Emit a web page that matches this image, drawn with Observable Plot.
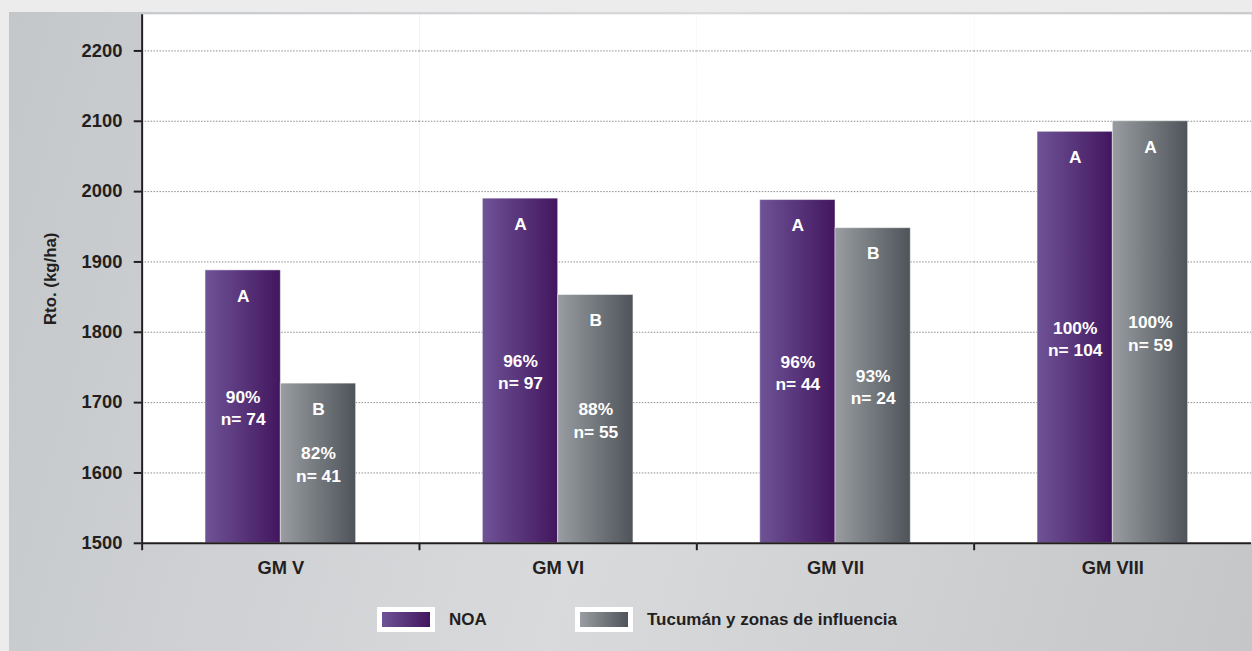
<!DOCTYPE html>
<html><head><meta charset="utf-8">
<script src="https://cdn.jsdelivr.net/npm/d3@7"></script>
<script src="https://cdn.jsdelivr.net/npm/@observablehq/plot@0.6"></script>
<style>
html,body{margin:0;padding:0;width:1252px;height:651px;overflow:hidden;background:#ececec;font-family:"Liberation Sans",Arial,sans-serif;}
#panel{position:absolute;left:9px;top:12px;width:1243px;height:639px;background:linear-gradient(105deg,#c4c7ca 0%,#d9dadc 50%,#c5c6c8 100%);}
#chart{position:absolute;left:0;top:0;}
.lg{position:absolute;top:607px;display:flex;align-items:center;height:25px;font-weight:bold;font-size:17px;color:#231f20;}
.box{width:48px;height:15px;border:5px solid #fff;margin-right:14px;}
</style></head><body>
<div id="panel"></div>
<div id="chart"></div>
<div class="lg" id="lg0" style="left:377px"></div>
<div class="lg" id="lg1" style="left:575px"></div>
<script>
const groups = ["GM V", "GM VI", "GM VII", "GM VIII"];
const seriesNames = ["NOA", "Tucumán y zonas de influencia"];
const noaValues = [1888, 1990, 1988, 2085];
const tucValues = [1727, 1853, 1948, 2100];
const noaLetters = ["A", "A", "A", "A"];
const tucLetters = ["B", "B", "B", "A"];
const noaPct = ["90%", "96%", "96%", "100%"];
const tucPct = ["82%", "88%", "93%", "100%"];
const noaN = [74, 97, 44, 104];
const tucN = [41, 55, 24, 59];
const yTicks = [1500, 1600, 1700, 1800, 1900, 2000, 2100, 2200];
const yMin = 1500, yMax = 2252;
const gradColors = [["#6f5397", "#42165e"], ["#999da1", "#4e545a"]];
const ink = "#231f20";

const data = [];
groups.forEach((g, i) => {
  data.push({group: g, series: seriesNames[0], value: noaValues[i], letter: noaLetters[i], pct: noaPct[i], n: noaN[i]});
  data.push({group: g, series: seriesNames[1], value: tucValues[i], letter: tucLetters[i], pct: tucPct[i], n: tucN[i]});
});

const W = 1264, H = 651, mt = 14, mb = 103, ml = 141;
const font = "Liberation Sans, Arial, sans-serif";

const vTick = {draw(ctx, size) { const r = Math.sqrt(size / Math.PI); ctx.moveTo(0, 0); ctx.lineTo(0, r); }};
const vLine = {draw(ctx, size) { const r = Math.sqrt(size / Math.PI); ctx.moveTo(0, -r); ctx.lineTo(0, r); }};

function build(plotH) {
  return Plot.plot({
    width: W, height: H,
    marginLeft: ml, marginRight: 0, marginTop: mt, marginBottom: mb,
    style: {background: "transparent", fontFamily: font, overflow: "visible", color: ink},
    fx: {domain: groups, paddingInner: 0, paddingOuter: 0},
    x: {domain: seriesNames, paddingInner: 0, paddingOuter: 0.825, axis: null},
    y: {domain: [yMin, yMax]},
    color: {domain: seriesNames, range: ["url(#grad0)", "url(#grad1)"]},
    marks: [
      Plot.frame({fill: "white", stroke: null}),
      Plot.gridY(yTicks.filter(v => v > yMin), {stroke: "#8a8a8a", strokeOpacity: 1, strokeDasharray: "1.5,1.5"}),
      Plot.barY(data, {fx: "group", x: "series", y1: () => yMin, y2: "value", fill: "series", stroke: "#ffffff", strokeOpacity: 0.45, strokeWidth: 1}),
      Plot.ruleY([yMin], {stroke: ink, strokeWidth: 2}),
      Plot.text(data, {fx: "group", x: "series", y: "value", text: "letter", dy: 26, fill: "white", fontSize: 17.5, fontWeight: "bold"}),
      Plot.text(data, {fx: "group", x: "series", y: d => (yMin + d.value) / 2, text: d => d.pct + "\nn= " + d.n, lineHeight: 1.3, fill: "white", fontSize: 17.5, fontWeight: "bold"}),
      Plot.axisY(yTicks, {tickSize: 8, tickPadding: 12, fontSize: 18.5, fontWeight: "bold", strokeWidth: 2, stroke: ink, fill: ink, tickFormat: d => String(d), label: null}),
      Plot.axisY(yTicks, {tickSize: 0, text: null, fontSize: 17, fontWeight: "bold", fill: ink, label: "Rto. (kg/ha)", labelArrow: "none", labelAnchor: "center", labelOffset: 99}),
      Plot.axisFx({anchor: "bottom", tickSize: 0, tickPadding: 18, fontSize: 18.5, fontWeight: "bold", fill: ink, label: null}),
      Plot.dot(groups, {fx: d => d, frameAnchor: "bottom-left", symbol: vTick, r: 7, stroke: ink, strokeWidth: 2, fill: "none"}),
      Plot.dot([groups[0]], {fx: d => d, frameAnchor: "left", symbol: vLine, r: plotH / 2, stroke: ink, strokeWidth: 2, fill: "none"})
    ]
  });
}

let chart = build(H - mt - mb);
// measure actual frame height to size the axis line
const probe = chart.querySelector("rect");
let fh = H - mt - mb;
document.getElementById("chart").appendChild(chart);
try {
  const ys = chart.querySelectorAll("[aria-label='frame'] rect");
  if (ys.length) { fh = +ys[0].getAttribute("height") || fh; }
} catch (e) {}
document.getElementById("chart").removeChild(chart);
chart = build(fh);

const svg = d3.select(chart.tagName.toLowerCase() === "svg" ? chart : chart.querySelector("svg"));
const defs = svg.insert("defs", ":first-child");
gradColors.forEach((c, i) => {
  const lg = defs.append("linearGradient").attr("id", "grad" + i).attr("x1", 0).attr("x2", 1).attr("y1", 0).attr("y2", 0);
  lg.append("stop").attr("offset", "0%").attr("stop-color", c[0]);
  lg.append("stop").attr("offset", "100%").attr("stop-color", c[1]);
});
document.getElementById("chart").appendChild(chart);

seriesNames.forEach((s, i) => {
  const el = document.getElementById("lg" + i);
  const box = document.createElement("div");
  box.className = "box";
  box.style.background = `linear-gradient(90deg, ${gradColors[i][0]}, ${gradColors[i][1]})`;
  el.appendChild(box);
  const t = document.createElement("span");
  t.textContent = s;
  el.appendChild(t);
});
</script>
</body></html>
